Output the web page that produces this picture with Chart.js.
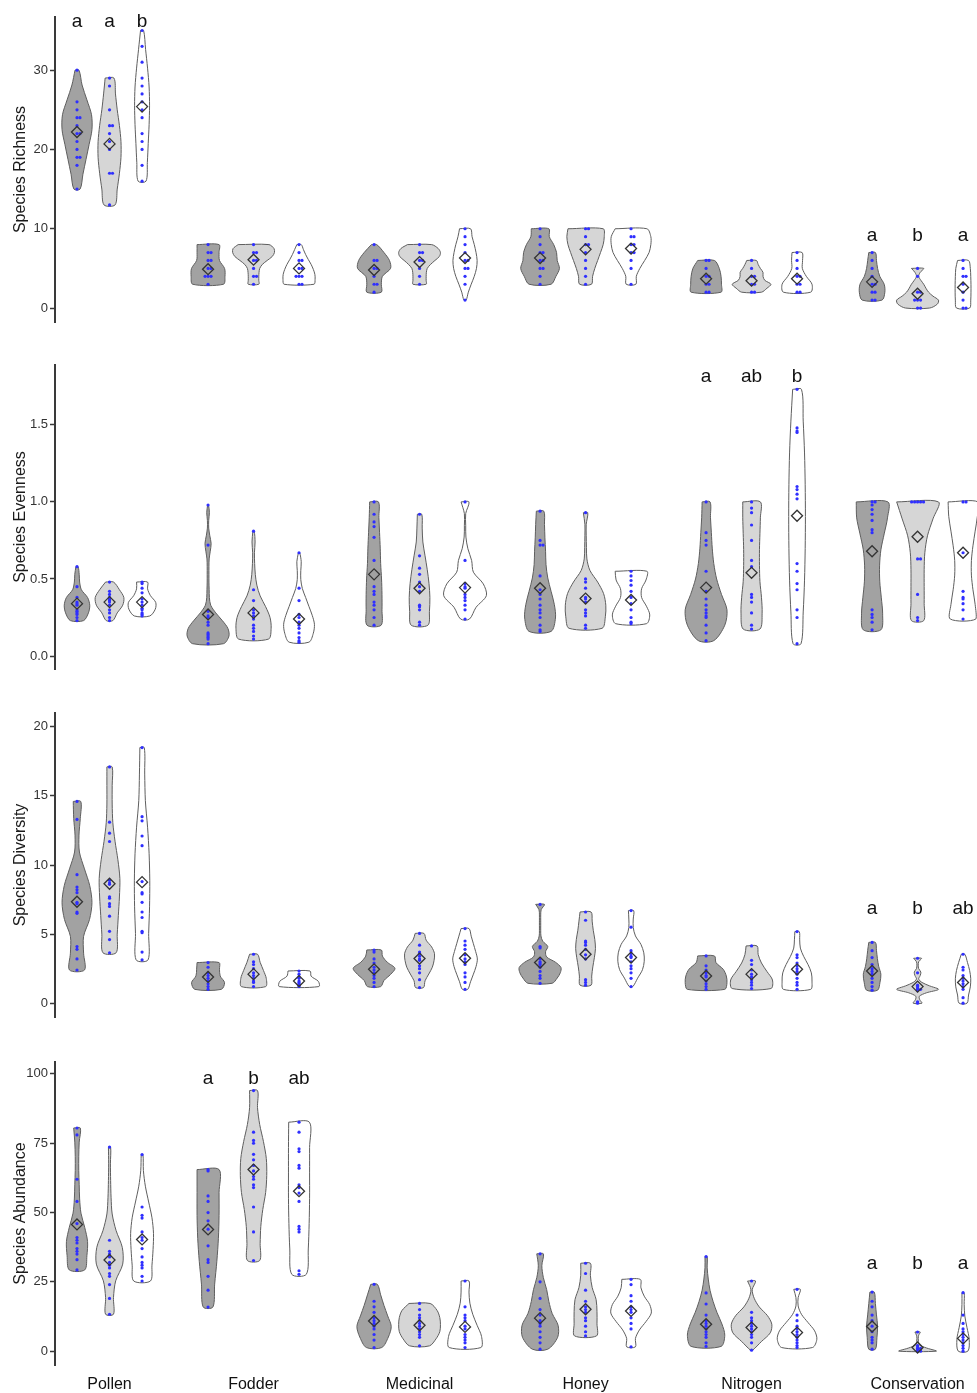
<!DOCTYPE html>
<html>
<head>
<meta charset="utf-8">
<script src="https://cdn.jsdelivr.net/npm/chart.js@4.4.1/dist/chart.umd.min.js"></script>
<style>
  body { margin: 0; background: #fff; }
  canvas { display: block; }
</style>
</head>
<body>
<canvas id="richness" width="977" height="345"></canvas>
<canvas id="evenness" width="977" height="345"></canvas>
<canvas id="diversity" width="977" height="350"></canvas>
<canvas id="abundance" width="977" height="353"></canvas>
<script>
// groups on the x axis, three treatments each (dark, light, white)
const groups = ["Pollen", "Fodder", "Medicinal", "Honey", "Nitrogen", "Conservation"];

// ---- Species Richness ----
const richnessPoints = [
  [[30,26,25,24,24,23,22,22,21,20,19,19,18,15], [29,28,25,23,23,22,21,20,17,17,13], [35,33,31,29,28,27,26,25,24,22,21,20,18,16]],
  [[8,7,7,6,6,5,5,4,4,4,3], [8,7,7,6,6,5,4,4,3], [8,7,6,6,5,5,4,4,4,3,3]],
  [[8,6,6,5,5,4,3,3,2], [8,7,7,6,6,5,4,3], [10,9,8,7,6,6,5,5,4,3,1]],
  [[10,9,8,7,7,6,6,5,5,4,3], [10,10,9,8,8,7,6,5,4,3], [10,9,9,8,8,7,7,6,5,3]],
  [[6,6,5,4,4,3,3,2,2], [6,5,4,4,3,3,2,2], [7,6,5,4,4,3,3,2,2]],
  [[7,6,5,4,3,3,2,2,1,1], [5,4,2,2,1,1,1,0,0], [6,5,4,4,3,2,1,0,0]]
];
const richnessMeans = [[22.2,20.7,25.4], [4.9,6.1,5.0], [4.8,5.8,6.3], [6.3,7.4,7.5], [3.7,3.45,3.7], [3.3,1.8,2.6]];
// relative density, bottom (min) to top (max), evenly spaced
const richnessShapes = [
  [[0.14,0.27,0.41,0.55,0.68,0.66,0.45,0.23,0.09], [0.25,0.35,0.45,0.52,0.52,0.45,0.35,0.27,0.2], [0.18,0.24,0.28,0.32,0.34,0.32,0.25,0.16,0.07]],
  [[0.7,0.77,0.75,0.52,0.5,0.5], [0.24,0.24,0.24,0.25,0.28,0.4,0.62,0.85,0.95,0.93,0.7], [0.68,0.73,0.72,0.65,0.55,0.42,0.3,0.2,0.1]],
  [[0.33,0.33,0.38,0.75,0.7,0.45,0.12], [0.3,0.3,0.3,0.31,0.35,0.5,0.7,0.9,0.95,0.85,0.55], [0.05,0.15,0.28,0.42,0.52,0.55,0.5,0.42,0.32,0.25]],
  [[0.5,0.72,0.88,0.78,0.75,0.62,0.42,0.4], [0.27,0.32,0.42,0.55,0.68,0.8,0.85,0.8], [0.22,0.24,0.4,0.62,0.82,0.9,0.9,0.72]],
  [[0.68,0.7,0.68,0.6,0.38], [0.45,0.7,0.88,0.6,0.52,0.52,0.4,0.3,0.22], [0.62,0.68,0.42,0.24,0.25,0.23]],
  [[0.45,0.58,0.55,0.35,0.25,0.2,0.15], [0.55,0.9,0.95,0.7,0.5,0.38,0.28,0.15,0.05,0.12,0.28], [0.3,0.35,0.36,0.36,0.35,0.33,0.25]]
];
const richnessTicks = [0, 10, 20, 30];
const richnessLetters = [["a","a","b"], null, null, null, null, ["a","b","a"]];
const richnessLetterY = [35.4, null, null, null, null, 8.4];

// ---- Species Evenness ----
const evennessPoints = [
  [[0.58,0.45,0.38,0.35,0.34,0.33,0.3,0.29,0.28,0.27,0.25,0.23], [0.48,0.42,0.4,0.38,0.37,0.36,0.35,0.33,0.3,0.28,0.25,0.23], [0.48,0.47,0.44,0.41,0.37,0.35,0.33,0.31,0.3,0.28,0.27,0.26]],
  [[0.98,0.72,0.29,0.26,0.25,0.22,0.2,0.15,0.14,0.13,0.12,0.11,0.08], [0.81,0.43,0.36,0.3,0.28,0.26,0.24,0.2,0.18,0.16,0.13,0.11], [0.67,0.44,0.36,0.27,0.25,0.22,0.2,0.18,0.15,0.12,0.1,0.09]],
  [[1.0,0.92,0.87,0.84,0.77,0.62,0.45,0.42,0.4,0.35,0.33,0.3,0.25,0.2], [0.92,0.65,0.57,0.53,0.48,0.45,0.42,0.33,0.32,0.3,0.22,0.2], [1.0,0.62,0.47,0.45,0.44,0.4,0.38,0.36,0.33,0.3,0.24]],
  [[0.94,0.75,0.72,0.72,0.52,0.43,0.4,0.37,0.33,0.3,0.28,0.25,0.2,0.17,0.16], [0.93,0.5,0.48,0.44,0.38,0.37,0.35,0.3,0.28,0.26,0.2,0.18], [0.55,0.52,0.49,0.46,0.42,0.38,0.34,0.3,0.25,0.22,0.21]],
  [[1.0,0.8,0.75,0.72,0.55,0.42,0.37,0.33,0.3,0.28,0.26,0.25,0.2,0.15,0.1], [1.0,0.96,0.93,0.85,0.75,0.62,0.58,0.4,0.38,0.35,0.28,0.2,0.175], [1.73,1.48,1.46,1.45,1.1,1.08,1.05,1.02,0.6,0.55,0.47,0.43,0.3,0.25,0.08]],
  [[1.0,1.0,0.98,0.95,0.92,0.88,0.82,0.8,0.3,0.27,0.25,0.22,0.17], [1.0,1.0,1.0,1.0,1.0,0.63,0.63,0.4,0.25,0.23], [1.0,1.0,0.67,0.42,0.38,0.37,0.34,0.3,0.24]]
];
const evennessMeans = [[0.34,0.35,0.35], [0.27,0.28,0.24], [0.53,0.44,0.444], [0.44,0.373,0.364], [0.444,0.54,0.91], [0.68,0.774,0.67]];
const evennessShapes = [
  [[0.3,0.52,0.58,0.48,0.2,0.12,0.1,0.05], [0.15,0.35,0.6,0.65,0.45,0.18], [0.35,0.6,0.62,0.38,0.25,0.25]],
  [[0.7,0.95,0.9,0.65,0.35,0.12,0.06,0.05,0.04,0.04,0.04,0.05,0.1,0.14,0.08,0.03,0.03,0.06,0.02], [0.68,0.8,0.75,0.55,0.3,0.15,0.08,0.05,0.04,0.07,0.03], [0.45,0.65,0.7,0.6,0.45,0.3,0.15,0.08,0.08,0.1,0.03]],
  [[0.32,0.36,0.36,0.34,0.3,0.28,0.25,0.22,0.2], [0.38,0.45,0.47,0.43,0.35,0.25,0.15,0.12,0.1], [0.2,0.5,0.97,0.83,0.38,0.3,0.13,0.04,0.03,0.03,0.18]],
  [[0.5,0.7,0.65,0.5,0.35,0.27,0.25,0.22,0.2,0.17], [0.75,0.9,0.92,0.82,0.55,0.2,0.06,0.04,0.03,0.03,0.1], [0.7,0.85,0.7,0.48,0.48,0.68,0.72]],
  [[0.35,0.85,0.95,0.7,0.48,0.35,0.28,0.24,0.2,0.18], [0.38,0.48,0.45,0.38,0.36,0.36,0.38,0.4,0.4], [0.18,0.28,0.34,0.37,0.38,0.37,0.34,0.28,0.2]],
  [[0.4,0.48,0.42,0.35,0.34,0.4,0.55,0.7,0.72], [0.28,0.3,0.3,0.3,0.33,0.45,0.7,0.95], [0.58,0.55,0.45,0.38,0.38,0.45,0.55,0.65,0.68]]
];
const evennessTicks = [0, 0.5, 1.0, 1.5];
const evennessLetters = [null, null, null, null, ["a","ab","b"], null];
const evennessLetterY = [null, null, null, null, 1.78, null];

// ---- Species Diversity ----
const diversityPoints = [
  [[14.6,13.3,9.3,8.4,8.2,8.0,7.3,7.2,6.6,6.5,4.1,3.9,3.2,2.4], [17.1,13.1,12.3,11.7,8.9,8.7,8.6,7.7,7.6,7.2,7.0,6.3,5.2,4.6,3.65], [18.5,13.5,13.2,12.1,11.4,8.8,8.0,7.9,7.3,6.6,6.2,5.2,5.1,3.7,3.13]],
  [[2.94,2.6,2.2,2.0,1.8,1.6,1.4,1.2,1.0], [3.54,3.0,2.8,2.5,2.2,2.0,1.8,1.6,1.5,1.2], [2.33,2.1,1.9,1.8,1.6,1.5,1.4,1.3,1.2]],
  [[3.85,3.7,3.2,2.9,2.6,2.4,2.2,2.0,1.8,1.5,1.2], [5.05,4.2,3.7,3.6,3.4,3.2,3.1,2.7,2.5,2.2,1.7,1.13], [5.4,4.5,4.2,3.9,3.5,3.2,3.0,2.8,2.2,1.9,1.5,1.0]],
  [[7.15,4.1,4.0,3.2,3.0,2.9,2.8,2.6,2.3,2.0,1.8,1.44], [6.6,6.0,4.5,4.4,4.2,3.9,3.5,3.2,1.7,1.5,1.3], [6.7,5.5,3.8,3.6,3.4,3.3,3.0,2.7,2.5,2.2,1.8,1.2]],
  [[3.42,2.7,2.4,2.2,2.0,1.9,1.6,1.4,1.2,1.0], [4.14,3.1,2.8,2.4,2.1,1.9,1.7,1.5,1.3,1.06], [5.18,3.5,3.3,2.9,2.7,2.5,2.3,2.1,1.8,1.5,1.3,1.0]],
  [[4.4,3.8,3.3,2.8,2.5,2.3,2.1,1.8,1.5,1.2,0.94], [3.25,2.2,1.3,1.2,1.1,1.0,1.0,0.9,0.1,0.0], [3.54,2.6,2.4,2.0,1.8,1.6,1.4,1.2,1.0,0.4,0.0]]
];
const diversityMeans = [[7.34,8.64,8.76], [1.9,2.1,1.6], [2.45,3.23,3.25], [2.94,3.54,3.3], [1.97,2.1,2.45], [2.33,1.2,1.5]];
const diversityShapes = [
  [[0.34,0.3,0.3,0.57,0.68,0.58,0.34,0.11,0.09,0.15,0.17], [0.3,0.35,0.4,0.45,0.47,0.38,0.25,0.15,0.12,0.12,0.12], [0.27,0.3,0.34,0.35,0.32,0.25,0.15,0.12,0.1]],
  [[0.6,0.75,0.55,0.52,0.5], [0.55,0.58,0.45,0.3,0.18], [0.9,0.88,0.55,0.5]],
  [[0.3,0.45,0.75,0.95,0.6,0.38,0.33], [0.18,0.25,0.42,0.58,0.66,0.68,0.55,0.3,0.2], [0.12,0.25,0.38,0.5,0.56,0.48,0.38,0.28,0.18]],
  [[0.55,0.78,0.92,0.95,0.7,0.3,0.25,0.35,0.12,0.04,0.03,0.03,0.03,0.03,0.05,0.2], [0.25,0.28,0.33,0.4,0.45,0.42,0.35,0.3,0.25], [0.08,0.3,0.52,0.6,0.58,0.45,0.2,0.1,0.1,0.12]],
  [[0.85,0.95,0.92,0.78,0.45,0.38], [0.88,0.95,0.7,0.45,0.3,0.25], [0.62,0.68,0.65,0.5,0.3,0.15,0.12,0.1]],
  [[0.25,0.36,0.4,0.3,0.24,0.2,0.15], [0.2,0.1,0.08,0.4,0.95,0.55,0.2,0.05,0.12,0.15,0.05,0.03,0.05,0.18], [0.18,0.25,0.33,0.35,0.3,0.2,0.08]]
];
const diversityTicks = [0, 5, 10, 15, 20];
const diversityLetters = [null, null, null, null, null, ["a","b","ab"]];
const diversityLetterY = [null, null, null, null, null, 6.48];

// ---- Species Abundance ----
const abundancePoints = [
  [[80.5,78,62,54,46,41,40,39,37,36,35,33,29.3], [73.6,40,36,35,34,32,31,30,28,27,24,19,13.3], [70.9,52,49,48,43,41,40,37,34,32,31,30,27,25.3]],
  [[65.5,65,56,54,50,47,44,38,33,32,27,22,15.9], [94,79,76,75,71,69,67,65,63,62,60,59,52,43,32.7], [82.6,79,73,72,67,66,60,59,57,54,45,44,43,29,27.7]],
  [[24.1,18,16,14,12,11,10,9,8,6,4,1.3], [17.2,15,13,12,11,10,9,8,7,6,5,1.9], [25.3,16,13,12,11,9,8,6,5,4,3,1.3]],
  [[35.1,25,19,15,13,11,10,9,7,5,3,0.7], [31.7,28,22,18,16,15,14,12,11,9,7,5.5], [25.9,24,20,18,16,15,14,12,10,8,1.55]],
  [[34.1,21,17,13,11,10,9,8,7,6,5,3,1.7], [25.3,14,12,11,10,9,8,7,6,5,3,0.36], [22.3,13,11,9,8,7,6,5,4,3,2,1.3]],
  [[21.3,18,16,13,11,9,7,5,4,3,0.7], [6.9,2,1.5,1,1,0.5,0.5,0,0], [21.1,13,10,8,7,6,5,4,3,2,1,0]]
];
const abundanceMeans = [[45.7,32.9,40.3], [43.9,65.5,57.7], [10.9,9.35,8.75], [11.9,15.1,14.5], [9.7,8.5,6.7], [8.9,1.3,4.6]];
const abundanceShapes = [
  [[0.35,0.45,0.48,0.35,0.18,0.12,0.1,0.08,0.08,0.1,0.15], [0.18,0.18,0.28,0.6,0.58,0.3,0.12,0.07,0.05,0.04,0.05], [0.38,0.45,0.5,0.52,0.45,0.3,0.15,0.06,0.04]],
  [[0.22,0.3,0.4,0.47,0.5,0.5,0.5], [0.28,0.3,0.33,0.42,0.55,0.6,0.58,0.45,0.28,0.18,0.18], [0.33,0.42,0.46,0.48,0.48,0.48,0.47]],
  [[0.35,0.65,0.78,0.62,0.45,0.3,0.15], [0.45,0.75,0.92,0.95,0.92,0.8,0.48], [0.72,0.75,0.55,0.35,0.22,0.18,0.18]],
  [[0.35,0.8,0.82,0.55,0.4,0.3,0.15,0.08,0.15], [0.5,0.52,0.52,0.48,0.3,0.22,0.22], [0.2,0.2,0.38,0.68,0.92,0.85,0.6,0.45,0.42]],
  [[0.68,0.85,0.72,0.5,0.32,0.18,0.1,0.05,0.05], [0.05,0.45,0.85,0.92,0.72,0.35,0.12,0.03,0.18], [0.7,0.9,0.8,0.5,0.2,0.05,0.05,0.15]],
  [[0.15,0.22,0.25,0.2,0.15,0.1], [0.85,0.4,0.08,0.04,0.03,0.05,0.12], [0.22,0.28,0.18,0.08,0.05,0.05]]
];
const abundanceTicks = [0, 25, 50, 75, 100];
const abundanceLetters = [null, ["a","b","ab"], null, null, null, ["a","b","a"]];
const abundanceLetterY = [null, 96.4, null, null, null, 29.7];

// ---- layout and style ----
Chart.defaults.font.family = '"Liberation Sans", Arial, Helvetica, sans-serif';
const fills = ["#a2a2a2", "#d6d6d6", "#ffffff"];
const groupX = [0.1325, 1, 2, 3, 4, 5];
const dodge = [0.196, 0.274, 0.274, 0.274, 0.274, 0.274];
const halfW = 22 / 166;   // x units for a relative density of 1

// closed violin outline from the density profile
function outline(cx, pts, dens) {
  const lo = Math.min(...pts), hi = Math.max(...pts);
  const n = dens.length, step = (hi - lo) / (n - 1);
  const right = [], left = [];
  dens.forEach((d, i) => {
    right.push({ x: cx + d * halfW, y: lo + i * step });
    left.push({ x: cx - d * halfW, y: lo + i * step });
  });
  return [left[n - 1], ...right.reverse(), ...left];
}

function makeRow(id, cfg) {
  const dots = [], means = [], violins = [];
  groups.forEach((g, gi) => {
    for (let t = 0; t < 3; t++) {
      const cx = groupX[gi] + (t - 1) * dodge[gi];
      const seen = {};
      cfg.points[gi][t].forEach(v => {
        const k = seen[v] || 0;
        seen[v] = k + 1;
        const off = k === 0 ? 0 : (k % 2 ? 1 : -1) * Math.ceil(k / 2) * 0.018;
        dots.push({ x: cx + off, y: v });
      });
      means.push({ x: cx, y: cfg.means[gi][t] });
      violins.push({
        type: "line",
        data: outline(cx, cfg.points[gi][t], cfg.shapes[gi][t]),
        fill: "shape",
        backgroundColor: fills[t],
        borderColor: "#5e5e5e",
        borderWidth: 1,
        pointRadius: 0,
        pointHoverRadius: 0,
        tension: 0.3,
        order: 2
      });
    }
  });

  const letterPlugin = {
    id: "letters",
    afterDatasetsDraw(chart) {
      const { ctx, scales: { x, y } } = chart;
      ctx.save();
      ctx.font = '19px "Liberation Sans", Arial, sans-serif';
      ctx.fillStyle = "#111";
      ctx.textAlign = "center";
      ctx.textBaseline = "alphabetic";
      cfg.letters.forEach((trio, gi) => {
        if (!trio) return;
        trio.forEach((s, t) => {
          ctx.fillText(s, x.getPixelForValue(groupX[gi] + (t - 1) * dodge[gi]), y.getPixelForValue(cfg.letterY[gi]));
        });
      });
      ctx.restore();
    }
  };

  new Chart(document.getElementById(id), {
    type: "scatter",
    data: {
      datasets: [
        { data: means, pointStyle: "rectRot", pointRadius: 5.5, pointBackgroundColor: "rgba(0,0,0,0)",
          pointBorderColor: "#333", pointBorderWidth: 1.3, order: 0 },
        { data: dots, pointRadius: 1.6, pointBackgroundColor: "#2f2fff", pointBorderWidth: 0, order: 1 },
        ...violins
      ]
    },
    options: {
      responsive: false,
      animation: false,
      events: [],
      layout: { autoPadding: false, padding: { top: cfg.padTop, bottom: cfg.padBottom, left: 0, right: 0 } },
      plugins: { legend: { display: false }, tooltip: { enabled: false } },
      scales: {
        x: {
          min: -0.196, max: 5.358,
          display: !!cfg.showX,
          afterBuildTicks: axis => { axis.ticks = groupX.map(v => ({ value: v })); },
          afterFit: axis => { axis.height = cfg.showX ? 28 : 0; },
          ticks: { callback: (v, i) => groups[i], font: { size: 16 }, color: "#111", padding: 10, autoSkip: false, maxRotation: 0 },
          grid: { display: false, drawTicks: false },
          border: { display: false }
        },
        y: {
          min: cfg.yMin, max: cfg.yMax,
          afterFit: axis => { axis.width = 55; },
          afterBuildTicks: axis => { axis.ticks = cfg.ticks.map(v => ({ value: v })); },
          ticks: { callback: cfg.fmt, font: { size: 13 }, color: "#333", padding: 2 },
          grid: { display: true, drawOnChartArea: false, drawTicks: true, tickLength: 5, tickColor: "#3a3a3a", tickWidth: 1.5 },
          border: { display: true, color: "#3a3a3a", width: 2 },
          title: { display: true, text: cfg.title, font: { size: 16 }, color: "#1a1a1a", padding: { top: 11, bottom: 0 } }
        }
      }
    },
    plugins: [letterPlugin]
  });
}

makeRow("richness", {
  points: richnessPoints, means: richnessMeans, shapes: richnessShapes,
  ticks: richnessTicks, fmt: v => String(v), title: "Species Richness",
  yMin: -1.76, yMax: 36.7, padTop: 17, padBottom: 23,
  letters: richnessLetters, letterY: richnessLetterY
});
makeRow("evenness", {
  points: evennessPoints, means: evennessMeans, shapes: evennessShapes,
  ticks: evennessTicks, fmt: v => v.toFixed(1), title: "Species Evenness",
  yMin: -0.084, yMax: 1.888, padTop: 20, padBottom: 21,
  letters: evennessLetters, letterY: evennessLetterY
});
makeRow("diversity", {
  points: diversityPoints, means: diversityMeans, shapes: diversityShapes,
  ticks: diversityTicks, fmt: v => String(v), title: "Species Diversity",
  yMin: -1.0, yMax: 21.0, padTop: 23, padBottom: 23,
  letters: diversityLetters, letterY: diversityLetterY
});
makeRow("abundance", {
  points: abundancePoints, means: abundanceMeans, shapes: abundanceShapes,
  ticks: abundanceTicks, fmt: v => String(v), title: "Species Abundance",
  yMin: -5.0, yMax: 104.3, padTop: 22, padBottom: 0, showX: true,
  letters: abundanceLetters, letterY: abundanceLetterY
});
</script>
</body>
</html>
